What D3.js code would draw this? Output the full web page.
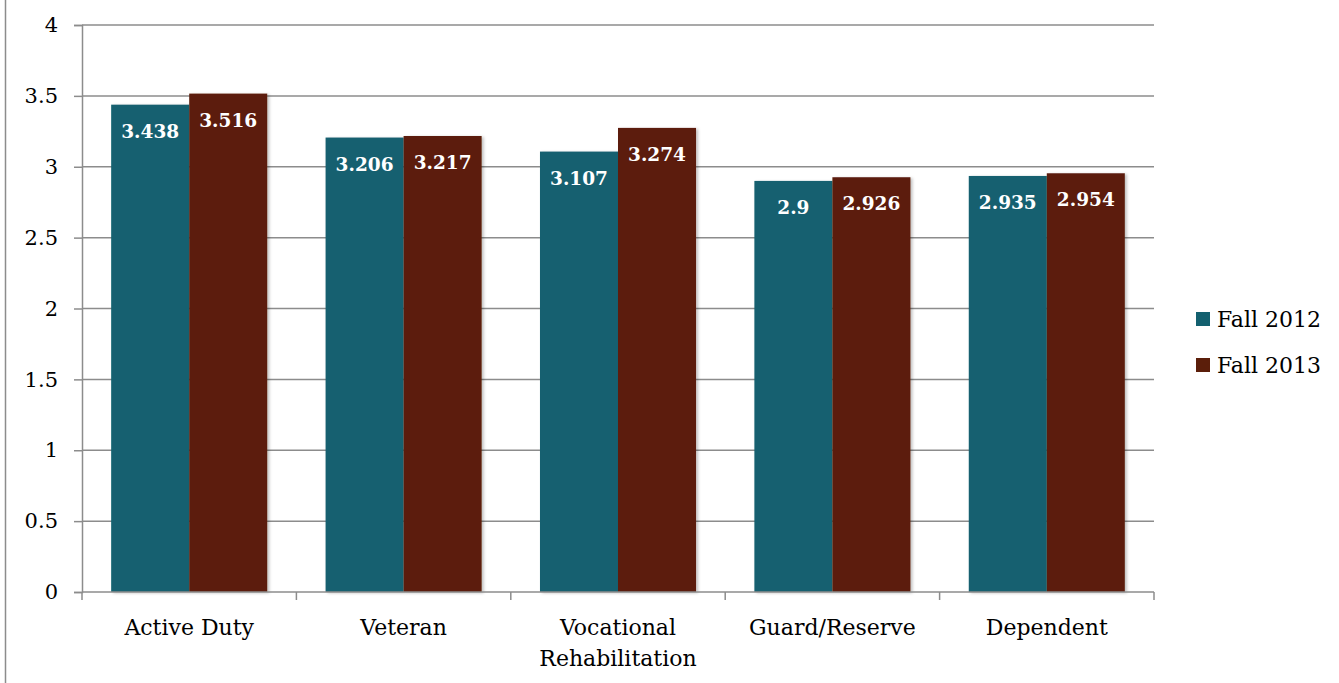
<!DOCTYPE html>
<html><head><meta charset="utf-8">
<script src="https://cdn.jsdelivr.net/npm/d3@7"></script>
<style>body{margin:0;background:#fff;}svg{display:block;}</style>
</head><body>
<svg id="c" width="1339" height="683"></svg>
<script>
const categories = ["Active Duty","Veteran","Vocational Rehabilitation","Guard/Reserve","Dependent"];
const seriesNames = ["Fall 2012","Fall 2013"];
const fall2012 = [3.438,3.206,3.107,2.9,2.935];
const fall2013 = [3.516,3.217,3.274,2.926,2.954];
const yTicks = [0,0.5,1,1.5,2,2.5,3,3.5,4];
const colors = ["#13606F","#5B1E0A"];
const values = [fall2012, fall2013];
const font = "DejaVu Serif, serif";

(function(){
const svg = d3.select("#c");
const pLeft = 82, pRight = 1154, pTop = 25, pBottom = 592;
const y = d3.scaleLinear().domain([0,4]).range([pBottom, pTop]);
const x0 = d3.scaleBand().domain(categories).range([pLeft, pRight]).paddingInner(0).paddingOuter(0);
const x1 = d3.scaleBand().domain(seriesNames).range([0, x0.bandwidth()]).paddingInner(0).paddingOuter(0.374);

const defs = svg.append("defs");
const f = defs.append("filter").attr("id","sh").attr("x","-10%").attr("y","-10%").attr("width","130%").attr("height","130%");
f.append("feDropShadow").attr("dx",2).attr("dy",1).attr("stdDeviation",1.5).attr("flood-color","#000").attr("flood-opacity",0.25);

// frame line
svg.append("line").attr("x1",5.5).attr("x2",5.5).attr("y1",0).attr("y2",683).attr("stroke","#8c8c8c").attr("stroke-width",1.5);

// gridlines
svg.append("g").selectAll("line").data(yTicks.filter(d=>d>0)).join("line")
  .attr("x1",pLeft).attr("x2",pRight).attr("y1",d=>y(d)).attr("y2",d=>y(d))
  .attr("stroke","#8c8c8c").attr("stroke-width",1.5);

// y axis
const yAxis = svg.append("g").attr("transform",`translate(${pLeft},0)`)
  .call(d3.axisLeft(y).tickValues(yTicks).tickSize(8).tickPadding(16).tickFormat(d=>String(d)));
yAxis.attr("font-family",font).attr("font-size",21);
yAxis.select(".domain").attr("stroke","#8c8c8c").attr("stroke-width",1.5);
yAxis.selectAll(".tick line").attr("stroke","#8c8c8c").attr("stroke-width",1.5);
yAxis.selectAll("text").attr("font-family",font).attr("font-size",21).attr("fill","#000");

// bars
const g = svg.append("g");
categories.forEach((c,i)=>{
  seriesNames.forEach((s,j)=>{
    const v = values[j][i];
    g.append("rect").attr("x",x0(c)+x1(s)).attr("width",x1.bandwidth())
      .attr("y",y(v)).attr("height",pBottom-y(v)).attr("fill",colors[j]).attr("filter","url(#sh)");
  });
});
// labels
categories.forEach((c,i)=>{
  seriesNames.forEach((s,j)=>{
    const v = values[j][i];
    svg.append("text").attr("x",x0(c)+x1(s)+x1.bandwidth()/2).attr("y",y(v)+33)
      .attr("text-anchor","middle").attr("font-family",font).attr("font-weight","bold")
      .attr("font-size",18.5).attr("fill","#fff").text(String(v));
  });
});

// x axis
const xAxis = svg.append("g").attr("transform",`translate(0,${pBottom})`);
xAxis.append("line").attr("x1",pLeft).attr("x2",pRight).attr("stroke","#8c8c8c").attr("stroke-width",1.5);
const bounds = categories.map(c=>x0(c)).concat([pRight]);
xAxis.selectAll(".xt").data(bounds).join("line").attr("class","xt")
  .attr("x1",d=>d).attr("x2",d=>d).attr("y1",0).attr("y2",8).attr("stroke","#8c8c8c").attr("stroke-width",1.5);
categories.forEach(c=>{
  const parts = c === "Vocational Rehabilitation" ? ["Vocational","Rehabilitation"] : [c];
  const t = svg.append("text").attr("x",x0(c)+x0.bandwidth()/2).attr("y",635)
    .attr("text-anchor","middle").attr("font-family",font).attr("font-size",22).attr("fill","#000");
  parts.forEach((p,k)=>t.append("tspan").attr("x",x0(c)+x0.bandwidth()/2).attr("dy",k?31:0).text(p));
});

// legend
seriesNames.forEach((s,j)=>{
  const ly = 319 + j*46;
  svg.append("rect").attr("x",1196).attr("y",ly-7).attr("width",14).attr("height",14).attr("fill",colors[j]);
  svg.append("text").attr("x",1217).attr("y",ly+8).attr("font-family",font).attr("font-size",22).attr("fill","#000").text(s);
});
})();
</script>
</body></html>
